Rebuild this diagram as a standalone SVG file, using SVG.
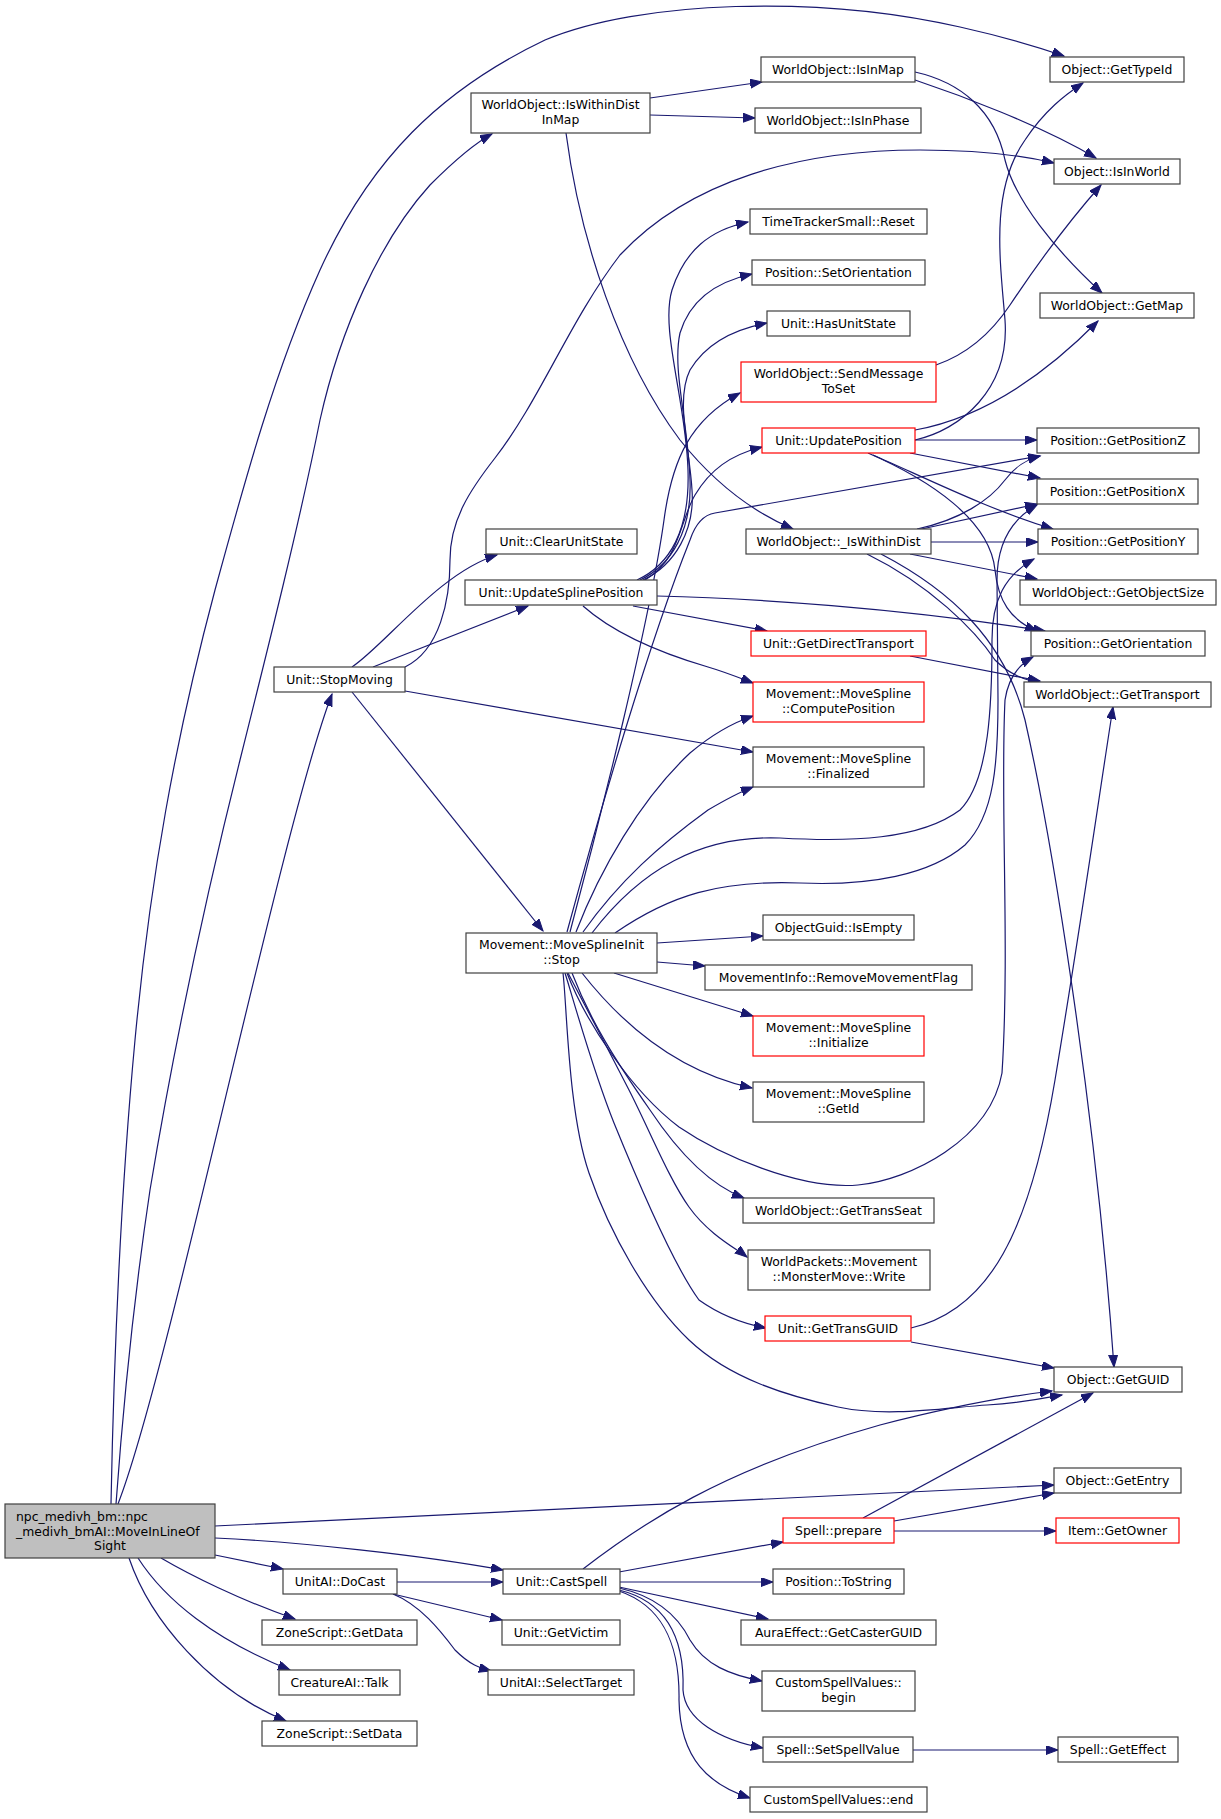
<svg xmlns="http://www.w3.org/2000/svg" width="1221" height="1819" viewBox="0 0 1221 1819">
<defs>
<style>
.n rect{fill:#fff;stroke:#404040;stroke-width:1.2}
.n.r rect{stroke:#ff0000}
.n.root rect{fill:#bfbfbf}
text{font-family:"DejaVu Sans","Liberation Sans",sans-serif;font-size:12.4px;text-anchor:middle;fill:#000}
#edges path{fill:none;stroke:#191970;stroke-width:1.2;marker-end:url(#a)}
</style>
<marker id="a" markerUnits="userSpaceOnUse" markerWidth="14" markerHeight="10" refX="12" refY="4.5" orient="auto"><path d="M0,0 L12,4.5 L0,9 Z" fill="#191970" stroke="#191970" stroke-width="1"/></marker>
</defs>
<rect width="1221" height="1819" fill="#fff"/>
<g id="edges">
<path d="M111,1504 C114,1350 120,1200 135,1040 C150,880 175,740 215,590 C245,480 275,370 320,270 C370,160 440,90 545,40 C640,0 820,-5 960,27 C1000,36 1035,46 1064,56"/>
<path d="M116,1504 C125,1380 135,1290 150,1190 C175,1040 205,900 240,760 C270,640 300,520 320,420 C340,330 380,240 430,185 C455,160 475,143 492,134"/>
<path d="M118,1504 C170,1370 280,830 332,694"/>
<path d="M352,692 L543,931"/>
<path d="M352,667 C385,645 440,572 497,555"/>
<path d="M373,667 L528,606"/>
<path d="M405,667 C440,650 450,600 450,560 C450,520 470,490 495,458 C540,400 570,320 620,255 C690,180 800,150 920,150 C980,150 1020,155 1054,163"/>
<path d="M405,691 L753,752"/>
<path d="M650,98 L762,82"/>
<path d="M650,115 L755,118"/>
<path d="M566,133 C580,240 620,360 680,440 C720,490 760,515 793,529"/>
<path d="M915,80 C960,95 1040,125 1096,158"/>
<path d="M915,72 C960,82 995,110 1005,160 C1015,200 1055,250 1102,293"/>
<path d="M915,440 C960,430 1010,390 1005,320 C1000,260 990,190 1025,140 C1045,110 1065,95 1083,83"/>
<path d="M936,365 C965,355 990,335 1010,305 C1040,260 1070,220 1101,185"/>
<path d="M915,430 C970,420 1030,390 1098,321"/>
<path d="M915,440 L1037,440"/>
<path d="M910,453 L1040,478"/>
<path d="M873,455 C930,480 990,510 1053,529"/>
<path d="M868,453 C930,480 990,520 995,570 C998,600 1010,620 1037,631"/>
<path d="M637,580 C670,565 690,530 688,470 C686,400 660,330 672,290 C685,250 710,230 748,222"/>
<path d="M640,580 C672,565 692,530 690,480 C688,420 672,370 680,333 C690,300 715,282 752,274"/>
<path d="M643,580 C675,565 695,530 692,490 C690,450 675,400 690,370 C705,345 730,330 767,323"/>
<path d="M645,580 C680,560 680,520 695,495 C710,470 730,455 762,447"/>
<path d="M583,606 C610,630 650,650 708,667 C725,672 740,678 753,683"/>
<path d="M633,606 L767,631"/>
<path d="M657,596 C750,598 900,608 1045,631"/>
<path d="M657,943 L763,936"/>
<path d="M657,962 L705,966"/>
<path d="M614,973 L753,1016"/>
<path d="M582,973 C615,1015 670,1070 752,1088"/>
<path d="M567,973 C585,1020 630,1090 679,1127 C720,1155 800,1190 858,1185 C910,1180 990,1140 1002,1073 C1010,950 1000,800 1005,700 C1008,680 1018,665 1033,657"/>
<path d="M592,933 C640,870 700,835 780,838 C850,842 920,840 960,810 C990,780 992,700 992,640 C992,600 1005,575 1034,559"/>
<path d="M615,933 C670,895 720,880 800,883 C870,886 930,875 965,845 C995,815 998,760 998,700 L997,580 C997,545 1010,520 1037,505"/>
<path d="M567,932 C600,810 650,640 690,540 C695,525 702,515 715,513 L1040,456"/>
<path d="M570,932 C600,820 650,620 664,520 C672,460 690,420 740,393"/>
<path d="M576,932 C600,870 640,800 690,753 C715,732 735,722 753,716"/>
<path d="M583,932 C620,880 660,845 708,810 C725,800 740,792 753,787"/>
<path d="M572,973 C590,1020 615,1060 650,1110 C680,1155 710,1185 744,1198"/>
<path d="M568,973 C578,992 609,1051 629,1090 C649,1129 669,1179 689,1207 C709,1235 737,1249 747,1257"/>
<path d="M565,973 C573,998 592,1068 614,1123 C636,1177 674,1266 699,1300 C720,1315 745,1324 766,1328"/>
<path d="M563,973 C567,1006 568,1112 589,1173 C610,1234 648,1301 689,1340 C730,1379 788,1396 838,1407 C888,1418 950,1407 987,1405 C1024,1403 1050,1397 1062,1395"/>
<path d="M911,1328 C990,1310 1030,1230 1055,1080 C1080,930 1100,790 1113,707"/>
<path d="M911,1342 L1054,1368"/>
<path d="M881,554 C950,590 1005,640 1025,720 C1050,830 1095,1100 1114,1367"/>
<path d="M867,554 C930,585 975,630 995,660 C1010,675 1025,680 1041,683"/>
<path d="M917,529 C960,520 990,500 1005,480 C1015,467 1025,460 1040,456"/>
<path d="M917,530 L1037,504"/>
<path d="M931,542 L1038,542"/>
<path d="M910,554 L1037,579"/>
<path d="M910,656 L1040,681"/>
<path d="M215,1526 Q640,1505 1054,1485"/>
<path d="M215,1538 C300,1542 420,1555 503,1570"/>
<path d="M215,1555 L283,1569"/>
<path d="M161,1558 C190,1575 240,1600 295,1619"/>
<path d="M138,1558 C165,1600 215,1640 290,1670"/>
<path d="M129,1558 C150,1620 210,1690 286,1721"/>
<path d="M397,1582 L503,1582"/>
<path d="M393,1594 L502,1620"/>
<path d="M393,1594 C420,1605 440,1630 455,1650 C470,1665 480,1668 491,1671"/>
<path d="M583,1569 C640,1525 720,1470 880,1425 C950,1407 1010,1396 1052,1391"/>
<path d="M619,1572 L783,1542"/>
<path d="M620,1582 L773,1582"/>
<path d="M619,1587 L768,1619"/>
<path d="M619,1588 C650,1595 675,1610 690,1640 C705,1665 730,1675 762,1681"/>
<path d="M619,1590 C660,1600 685,1630 683,1690 C685,1720 720,1740 763,1748"/>
<path d="M619,1591 C660,1605 680,1640 679,1700 C680,1760 710,1785 750,1798"/>
<path d="M863,1518 L1093,1393"/>
<path d="M894,1521 L1054,1493"/>
<path d="M894,1531 L1056,1531"/>
<path d="M913,1750 L1058,1750"/>
</g>
<g id="root" class="n root"><rect x="5" y="1504" width="210" height="54"/><text x="16" y="1521" style="text-anchor:start">npc_medivh_bm::npc</text><text x="16" y="1535.5" style="text-anchor:start">_medivh_bmAI::MoveInLineOf</text><text x="110" y="1550">Sight</text></g>
<g id="n_iwdim" class="n"><rect x="471" y="93" width="179" height="40"/><text x="560.5" y="109">WorldObject::IsWithinDist</text><text x="560.5" y="124">InMap</text></g>
<g id="n_isinmap" class="n"><rect x="761" y="57" width="154" height="25"/><text x="838" y="74">WorldObject::IsInMap</text></g>
<g id="n_isinphase" class="n"><rect x="755" y="108" width="166" height="25"/><text x="838" y="125">WorldObject::IsInPhase</text></g>
<g id="n_typeid" class="n"><rect x="1050" y="57" width="134" height="25"/><text x="1117" y="74">Object::GetTypeId</text></g>
<g id="n_isinworld" class="n"><rect x="1054" y="159" width="126" height="25"/><text x="1117" y="176">Object::IsInWorld</text></g>
<g id="n_ttreset" class="n"><rect x="750" y="209" width="177" height="25"/><text x="838.5" y="226">TimeTrackerSmall::Reset</text></g>
<g id="n_setorient" class="n"><rect x="752" y="260" width="173" height="25"/><text x="838.5" y="277">Position::SetOrientation</text></g>
<g id="n_hasus" class="n"><rect x="767" y="311" width="143" height="25"/><text x="838.5" y="328">Unit::HasUnitState</text></g>
<g id="n_sendmsg" class="n r"><rect x="741" y="362" width="195" height="40"/><text x="838.5" y="378">WorldObject::SendMessage</text><text x="838.5" y="393">ToSet</text></g>
<g id="n_getmap" class="n"><rect x="1040" y="293" width="154" height="25"/><text x="1117" y="310">WorldObject::GetMap</text></g>
<g id="n_updpos" class="n r"><rect x="762" y="428" width="153" height="25"/><text x="838.5" y="445">Unit::UpdatePosition</text></g>
<g id="n_posz" class="n"><rect x="1037" y="428" width="162" height="25"/><text x="1118" y="445">Position::GetPositionZ</text></g>
<g id="n_posx" class="n"><rect x="1037" y="479" width="161" height="25"/><text x="1117.5" y="496">Position::GetPositionX</text></g>
<g id="n_posy" class="n"><rect x="1038" y="529" width="160" height="25"/><text x="1118" y="546">Position::GetPositionY</text></g>
<g id="n_objsize" class="n"><rect x="1020" y="580" width="196" height="25"/><text x="1118" y="597">WorldObject::GetObjectSize</text></g>
<g id="n_getorient" class="n"><rect x="1031" y="631" width="174" height="25"/><text x="1118" y="648">Position::GetOrientation</text></g>
<g id="n_gettransport" class="n"><rect x="1024" y="682" width="187" height="25"/><text x="1117.5" y="699">WorldObject::GetTransport</text></g>
<g id="n_clearus" class="n"><rect x="486" y="529" width="151" height="25"/><text x="561.5" y="546">Unit::ClearUnitState</text></g>
<g id="n_updspline" class="n"><rect x="465" y="580" width="192" height="25"/><text x="561" y="597">Unit::UpdateSplinePosition</text></g>
<g id="n_iswithin" class="n"><rect x="746" y="529" width="185" height="25"/><text x="838.5" y="546">WorldObject::_IsWithinDist</text></g>
<g id="n_getdirtr" class="n r"><rect x="751" y="631" width="175" height="25"/><text x="838.5" y="648">Unit::GetDirectTransport</text></g>
<g id="n_stopmoving" class="n"><rect x="274" y="667" width="131" height="25"/><text x="339.5" y="684">Unit::StopMoving</text></g>
<g id="n_compute" class="n r"><rect x="753" y="682" width="171" height="40"/><text x="838.5" y="698">Movement::MoveSpline</text><text x="838.5" y="713">::ComputePosition</text></g>
<g id="n_finalized" class="n"><rect x="753" y="747" width="171" height="40"/><text x="838.5" y="763">Movement::MoveSpline</text><text x="838.5" y="778">::Finalized</text></g>
<g id="n_stop" class="n"><rect x="466" y="933" width="191" height="40"/><text x="561.5" y="949">Movement::MoveSplineInit</text><text x="561.5" y="964">::Stop</text></g>
<g id="n_isempty" class="n"><rect x="763" y="915" width="151" height="25"/><text x="838.5" y="932">ObjectGuid::IsEmpty</text></g>
<g id="n_remflag" class="n"><rect x="705" y="965" width="267" height="25"/><text x="838.5" y="982">MovementInfo::RemoveMovementFlag</text></g>
<g id="n_init" class="n r"><rect x="753" y="1016" width="171" height="40"/><text x="838.5" y="1032">Movement::MoveSpline</text><text x="838.5" y="1047">::Initialize</text></g>
<g id="n_getid" class="n"><rect x="753" y="1082" width="171" height="40"/><text x="838.5" y="1098">Movement::MoveSpline</text><text x="838.5" y="1113">::GetId</text></g>
<g id="n_transseat" class="n"><rect x="743" y="1198" width="191" height="25"/><text x="838.5" y="1215">WorldObject::GetTransSeat</text></g>
<g id="n_mmwrite" class="n"><rect x="748" y="1250" width="182" height="40"/><text x="839" y="1266">WorldPackets::Movement</text><text x="839" y="1281">::MonsterMove::Write</text></g>
<g id="n_transguid" class="n r"><rect x="765" y="1316" width="146" height="25"/><text x="838" y="1333">Unit::GetTransGUID</text></g>
<g id="n_getguid" class="n"><rect x="1054" y="1367" width="128" height="25"/><text x="1118" y="1384">Object::GetGUID</text></g>
<g id="n_getentry" class="n"><rect x="1054" y="1468" width="127" height="25"/><text x="1117.5" y="1485">Object::GetEntry</text></g>
<g id="n_prepare" class="n r"><rect x="783" y="1518" width="111" height="25"/><text x="838.5" y="1535">Spell::prepare</text></g>
<g id="n_getowner" class="n r"><rect x="1056" y="1518" width="123" height="25"/><text x="1117.5" y="1535">Item::GetOwner</text></g>
<g id="n_docast" class="n"><rect x="283" y="1569" width="114" height="25"/><text x="340" y="1586">UnitAI::DoCast</text></g>
<g id="n_castspell" class="n"><rect x="503" y="1569" width="117" height="25"/><text x="561.5" y="1586">Unit::CastSpell</text></g>
<g id="n_tostring" class="n"><rect x="773" y="1569" width="131" height="25"/><text x="838.5" y="1586">Position::ToString</text></g>
<g id="n_getdata" class="n"><rect x="262" y="1620" width="155" height="25"/><text x="339.5" y="1637">ZoneScript::GetData</text></g>
<g id="n_getvictim" class="n"><rect x="502" y="1620" width="118" height="25"/><text x="561" y="1637">Unit::GetVictim</text></g>
<g id="n_castguid" class="n"><rect x="741" y="1620" width="195" height="25"/><text x="838.5" y="1637">AuraEffect::GetCasterGUID</text></g>
<g id="n_begin" class="n"><rect x="762" y="1671" width="153" height="40"/><text x="838.5" y="1687">CustomSpellValues::</text><text x="838.5" y="1702">begin</text></g>
<g id="n_talk" class="n"><rect x="279" y="1670" width="121" height="25"/><text x="339.5" y="1687">CreatureAI::Talk</text></g>
<g id="n_selecttarget" class="n"><rect x="488" y="1670" width="146" height="25"/><text x="561" y="1687">UnitAI::SelectTarget</text></g>
<g id="n_setspellvalue" class="n"><rect x="763" y="1737" width="150" height="25"/><text x="838" y="1754">Spell::SetSpellValue</text></g>
<g id="n_geteffect" class="n"><rect x="1058" y="1737" width="120" height="25"/><text x="1118" y="1754">Spell::GetEffect</text></g>
<g id="n_setdata" class="n"><rect x="262" y="1721" width="155" height="25"/><text x="339.5" y="1738">ZoneScript::SetData</text></g>
<g id="n_end" class="n"><rect x="750" y="1787" width="177" height="25"/><text x="838.5" y="1804">CustomSpellValues::end</text></g>
</svg>
